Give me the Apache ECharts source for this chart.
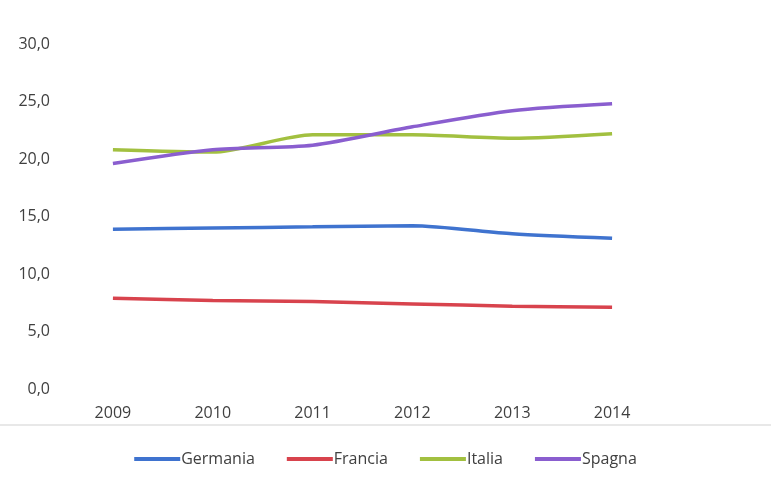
<!DOCTYPE html>
<html>
<head>
<meta charset="utf-8">
<script src="https://cdn.jsdelivr.net/npm/echarts@6/dist/echarts.min.js"></script>
<style>html,body{margin:0;padding:0;background:#fff}#c{width:771px;height:479px}</style>
</head>
<body>
<div id="c"></div>
<script>
const years = ['2009','2010','2011','2012','2013','2014'];
const germania = [13.9, 14.0, 14.1, 14.2, 13.5, 13.1];
const francia = [7.9, 7.7, 7.6, 7.4, 7.2, 7.1];
const italia = [20.8, 20.6, 22.1, 22.1, 21.8, 22.2];
const spagna = [19.6, 20.8, 21.2, 22.8, 24.2, 24.8];
const yTicks = [0, 5, 10, 15, 20, 25, 30];

const colors = ['#3f73cf', '#d8434d', '#a2c040', '#8a5ecf'];
const names = ['Germania', 'Francia', 'Italia', 'Spagna'];
const data = [germania, francia, italia, spagna];

const chart = echarts.init(document.getElementById('c'));
chart.setOption({
  animation: false,
  color: colors,
  textStyle: { fontFamily: 'Open Sans, Liberation Sans, sans-serif' },
  grid: { left: 63, right: 109, top: 44, bottom: 90 },
  legend: {
    top: 446,
    left: 'center',
    itemWidth: 46,
    itemHeight: 4,
    itemGap: 32,
    icon: 'rect',
    textStyle: { fontSize: 16, color: '#404040', padding: [0, 0, 0, -4] },
    data: names
  },
  xAxis: {
    type: 'category',
    data: years,
    boundaryGap: true,
    axisLine: { show: false },
    axisTick: { show: false },
    axisLabel: { fontSize: 16, color: '#404040', margin: 16 }
  },
  yAxis: {
    type: 'value',
    min: yTicks[0],
    max: yTicks[yTicks.length - 1],
    interval: 5,
    splitLine: { show: false },
    axisLine: { show: false },
    axisTick: { show: false },
    axisLabel: { fontSize: 16, color: '#404040', margin: 13,
      formatter: v => v.toFixed(1).replace('.', ',') }
  },
  graphic: [{
    type: 'rect',
    shape: { x: 0, y: 424, width: 771, height: 2 },
    style: { fill: '#e8e8e8' },
    silent: true
  }],
  series: names.map((n, i) => ({
    name: n,
    type: 'line',
    data: data[i],
    smooth: 0.25,
    symbol: 'none',
    lineStyle: { width: 3.5, color: colors[i] },
    itemStyle: { color: colors[i] }
  }))
});
</script>
</body>
</html>
